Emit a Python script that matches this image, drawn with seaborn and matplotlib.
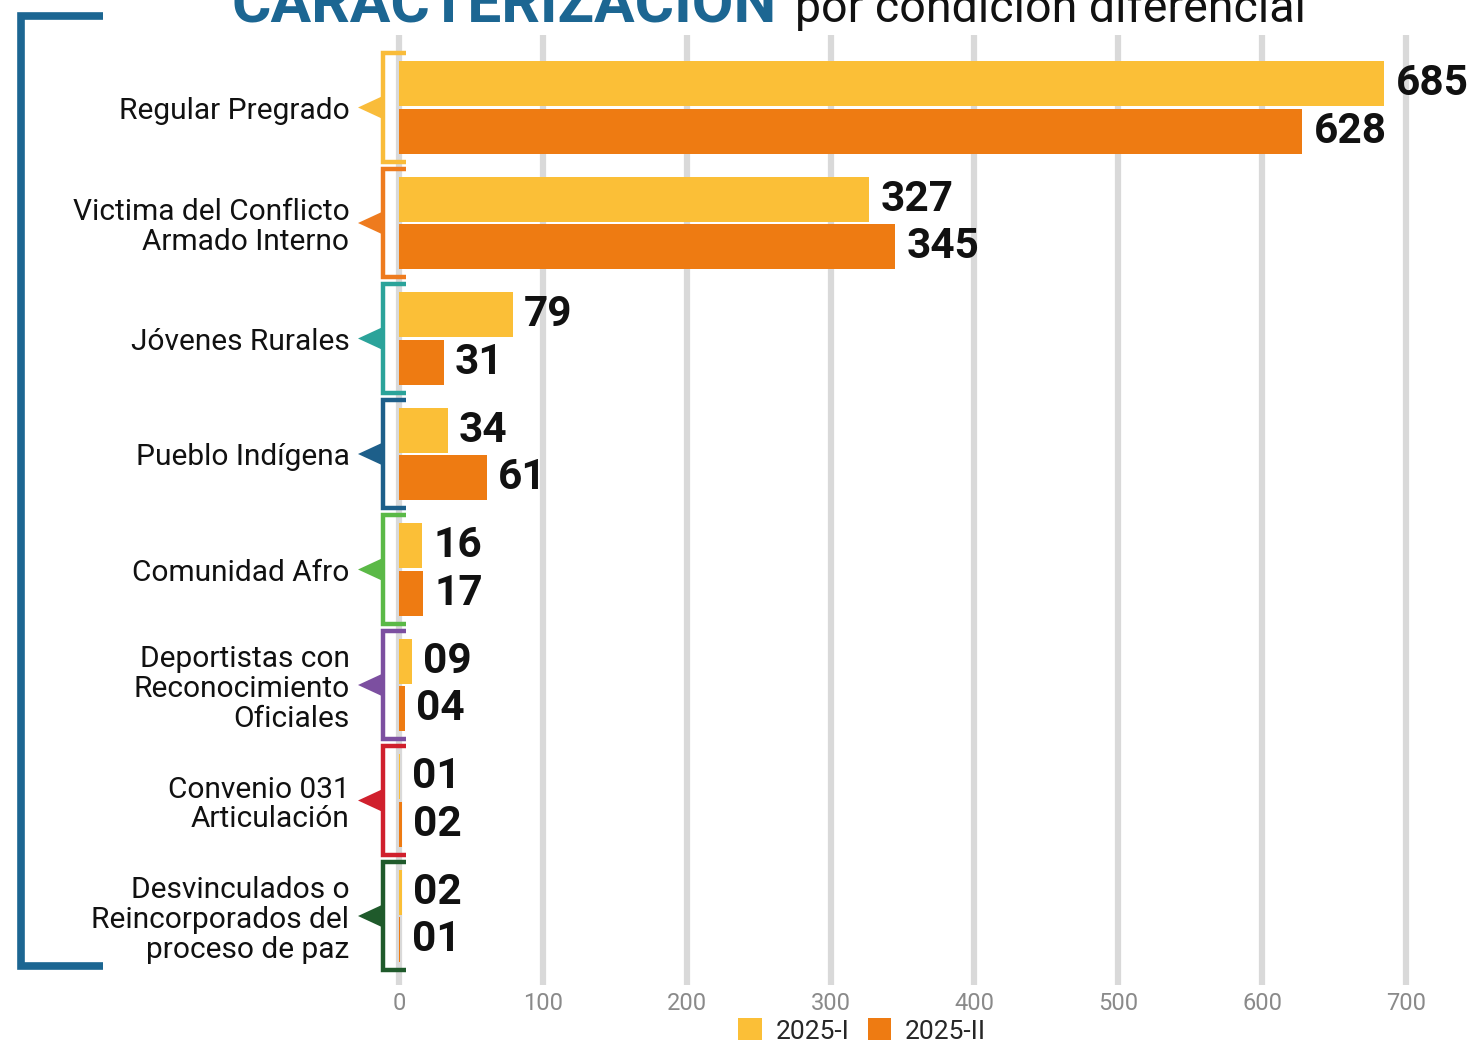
import matplotlib
matplotlib.use("Agg")
import matplotlib.pyplot as plt
from matplotlib import font_manager
from matplotlib.patches import Polygon, Patch
import seaborn as sns
import pandas as pd

# ---------------- data ----------------
categories = [
    "Regular Pregrado",
    "Victima del Conflicto Armado Interno",
    "Jóvenes Rurales",
    "Pueblo Indígena",
    "Comunidad Afro",
    "Deportistas con Reconocimiento Oficiales",
    "Convenio 031 Articulación",
    "Desvinculados o Reincorporados del proceso de paz",
]
tick_labels = [
    "Regular Pregrado",
    "Victima del Conflicto\nArmado Interno",
    "Jóvenes Rurales",
    "Pueblo Indígena",
    "Comunidad Afro",
    "Deportistas con\nReconocimiento\nOficiales",
    "Convenio 031\nArticulación",
    "Desvinculados o\nReincorporados del\nproceso de paz",
]
periods = ["2025-I", "2025-II"]
values_2025_1 = [685, 327, 79, 34, 16, 9, 1, 2]
values_2025_2 = [628, 345, 31, 61, 17, 4, 2, 1]
x_ticks = [0, 100, 200, 300, 400, 500, 600, 700]

bar_colors = ["#FBBF37", "#EE7B12"]
group_colors = ["#F9BC3A", "#EE7B1E", "#2BA39A", "#1D5F8A",
                "#5BB947", "#7C4FA0", "#D0202D", "#1F5A2B"]
blue = "#1C6692"

# ---------------- fonts ----------------
FAM = ["Roboto", "DejaVu Sans"]

sns.set_theme(style="white")
plt.rcParams["font.family"] = FAM

df = pd.DataFrame({
    "cat": categories * 2,
    "period": [periods[0]] * len(categories) + [periods[1]] * len(categories),
    "value": values_2025_1 + values_2025_2,
})

W, H = 1471, 1043
fig = plt.figure(figsize=(W / 100, H / 100), dpi=100)
px_per_unit = (1406 - 399) / 700.0
ax_left_px, ax_right_px = 380, 1471
ax_top_px, ax_bot_px = 35, 985
ax = fig.add_axes([ax_left_px / W, 1 - ax_bot_px / H,
                   (ax_right_px - ax_left_px) / W, (ax_bot_px - ax_top_px) / H])

sns.barplot(data=df, y="cat", x="value", hue="period", order=categories,
            hue_order=periods, palette=bar_colors, width=0.83, gap=0.06,
            saturation=1, linewidth=0, ax=ax, zorder=3)

ax.set_xlim(-(399 - ax_left_px) / px_per_unit, (ax_right_px - 399) / px_per_unit)
pitch = 115.5
c0 = 107.5
ax.set_ylim((ax_bot_px - c0) / pitch, -(c0 - ax_top_px) / pitch)

ax.set_xticks(x_ticks)
ax.set_xticklabels([str(t) for t in x_ticks], color="#8a8a8a", fontsize=17)
ax.set_yticks(range(len(categories)))
ax.set_yticklabels(tick_labels, fontsize=21.5, color="#111111", linespacing=1.08)
ax.tick_params(axis="x", length=0, pad=5)
ax.tick_params(axis="y", length=0, pad=22)
ax.xaxis.grid(True, color="#d9d9d9", linewidth=4.5, zorder=0)
ax.yaxis.grid(False)
ax.set_axisbelow(True)
for s in ax.spines.values():
    s.set_visible(False)
ax.set_xlabel("")
ax.set_ylabel("")

# value labels
all_vals = [values_2025_1, values_2025_2]
for cont, vals in zip(ax.containers, all_vals):
    ax.bar_label(cont, labels=[f"{v:02d}" for v in vals], padding=8,
                 fontsize=30.5, fontweight="bold", color="#111111")

# colored brackets with pointer
xb = -(399 - 383) / px_per_unit
xarm = (406 - 399) / px_per_unit
xtip = -(399 - 358) / px_per_unit
for i, col in enumerate(group_colors):
    y0, y1 = i - 0.47, i + 0.47
    ax.plot([xarm, xb, xb, xarm], [y0, y0, y1, y1], color=col, lw=3.2,
            solid_joinstyle="miter", solid_capstyle="butt", clip_on=False, zorder=4)
    tri = Polygon([[xtip, i], [xb, i - 0.1], [xb, i + 0.1]], closed=True,
                  facecolor=col, edgecolor="none", clip_on=False, zorder=4)
    ax.add_patch(tri)

# big left bracket (figure pixels)
fx = lambda p: p / W
fy = lambda p: 1 - p / H
fig.add_artist(plt.Line2D([fx(103), fx(20.5), fx(20.5), fx(103)],
                          [fy(16), fy(16), fy(966), fy(966)],
                          color=blue, lw=5.5, solid_joinstyle="miter",
                          solid_capstyle="butt"))

# legend
if ax.get_legend() is not None:
    ax.get_legend().remove()
handles = [Patch(facecolor=c, edgecolor="none") for c in bar_colors]
fig.legend(handles, periods, loc="center", bbox_to_anchor=(fx(862), fy(1031)),
           ncol=2, frameon=False, fontsize=19, handlelength=0.9,
           handleheight=0.9, handletextpad=0.5, columnspacing=0.7,
           borderpad=0)

# title
t1 = fig.text(fx(232), fy(22), "CARACTERIZACIÓN", color=blue, fontsize=43.5,
              fontweight="bold", ha="left", va="baseline")
fig.canvas.draw()
bb = t1.get_window_extent()
fig.text((bb.x1 + 18) / W, fy(22), "por condición diferencial", color="#111111",
         fontsize=33.5, ha="left", va="baseline")

fig.savefig("out.png", dpi=100)
